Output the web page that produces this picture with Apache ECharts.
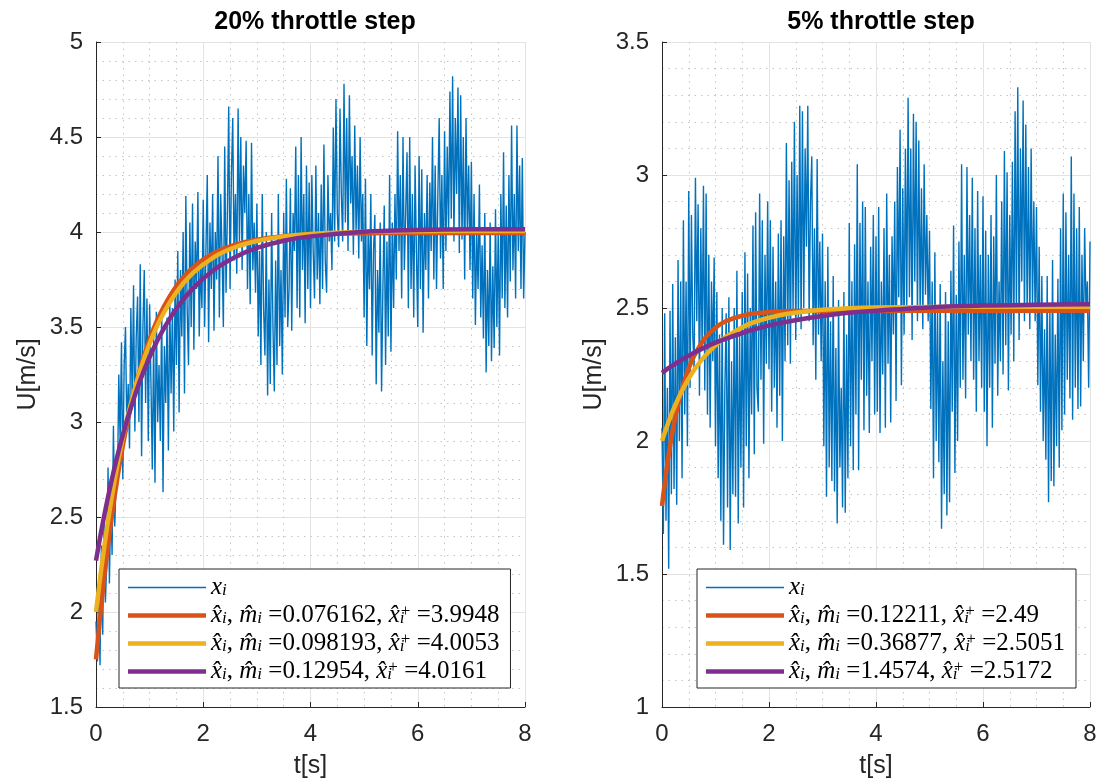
<!DOCTYPE html>
<html><head><meta charset="utf-8">
<script src="https://cdn.jsdelivr.net/npm/echarts@6/dist/echarts.min.js"></script>
<style>html,body{margin:0;padding:0;background:#fff}#c{width:1097px;height:783px}</style>
</head><body><div id="c"></div>
<script>
// ---------- data ----------
const SAMPLE_DT = 0.025; // s between measured samples
const U20_SAMPLES = [
1.95,1.74,2.12,1.72,2.35,1.88,2.48,2.05,
2.25,2.76,2.15,2.6,2.3,2.98,2.45,2.7,
2.66,3.25,2.9,3.42,2.7,3.3,3.5,2.95,
3.2,2.86,3.6,3.1,3.72,2.95,3.45,3.66,
3.0,3.83,2.82,3.5,3.8,3.1,3.65,2.9,
3.62,3.2,2.75,3.45,2.68,3.58,3.0,3.3,
2.9,3.6,2.63,3.4,3.1,3.55,2.85,3.65,
3.15,3.6,2.95,3.75,3.3,3.9,3.05,3.8,
3.45,4.0,3.15,4.19,3.6,3.3,4.05,3.5,
4.15,3.38,3.95,3.7,4.21,3.45,3.85,3.6,
4.17,3.5,3.9,4.3,3.42,4.05,3.7,4.2,
3.48,4.0,3.75,4.4,3.55,4.2,3.9,3.5,
4.45,3.68,4.1,4.66,3.7,4.3,4.6,3.85,
4.2,3.78,4.65,3.95,4.5,3.8,4.35,4.1,
4.48,3.7,4.2,3.62,4.47,3.8,4.05,3.68,
4.15,3.45,3.9,3.3,4.2,3.6,3.35,4.0,
3.14,3.75,3.2,4.1,3.5,3.16,3.85,3.3,
4.2,3.4,3.8,3.25,4.1,3.55,4.28,3.5,
3.7,4.23,3.48,4.1,3.9,4.45,3.6,4.3,
3.55,4.5,3.8,4.2,3.52,4.35,3.7,4.26,
3.6,4.3,3.9,3.65,4.35,3.75,4.1,3.62,
4.25,3.7,4.46,3.85,3.68,4.3,3.95,4.1,
3.8,4.55,3.95,4.7,4.1,3.92,4.65,4.2,
3.95,4.78,4.05,4.6,3.9,4.72,4.15,4.4,
3.88,4.56,4.0,4.35,3.86,4.5,3.95,4.2,
3.55,4.28,3.4,4.0,3.7,4.2,3.35,3.9,
4.09,3.2,3.8,3.47,4.05,3.16,3.7,4.14,
3.3,3.95,3.45,4.3,3.37,4.05,3.6,4.2,
3.75,4.53,3.9,4.3,3.65,4.5,3.8,4.1,
4.42,3.6,4.5,3.7,4.2,3.55,4.35,3.9,
3.5,4.4,3.7,4.33,3.47,4.1,3.8,4.3,
3.65,4.26,3.9,4.5,3.75,4.35,3.7,4.2,
4.6,3.86,4.3,3.7,4.53,3.9,4.45,4.0,
4.74,4.07,4.82,3.95,4.6,4.2,4.76,3.89,
4.72,3.96,4.5,3.75,4.6,4.0,4.35,3.8,
4.37,3.65,4.2,3.51,4.0,3.7,4.25,3.55,
3.93,3.44,4.1,3.26,3.8,3.4,4.05,3.32,
3.82,3.39,4.12,3.5,4.0,3.35,4.2,3.65,
4.42,3.6,4.14,3.55,4.3,3.74,4.56,3.8,
4.2,3.65,4.56,3.9,4.35,3.7,4.39,3.65,
4.0];
const U5_SAMPLES = [
2.05,1.65,2.48,1.7,2.2,1.52,2.49,1.8,
2.59,1.82,2.39,1.76,2.68,2.0,2.6,1.86,
2.83,2.1,2.6,1.98,2.94,2.2,2.85,2.4,
2.27,2.99,2.45,2.89,2.17,2.8,2.35,2.96,
2.19,2.93,2.1,2.7,2.05,2.6,2.3,2.69,
1.98,2.56,1.86,2.4,1.7,2.5,1.61,2.2,
2.48,1.75,2.54,1.59,2.3,1.8,2.5,1.79,
2.64,1.69,2.4,1.9,2.56,1.75,2.71,1.98,
2.63,1.86,2.5,2.1,2.81,1.95,2.86,2.2,
2.11,2.93,2.23,2.83,1.99,2.7,2.29,2.9,
2.27,2.83,2.11,2.73,2.2,2.6,2.05,2.78,
2.17,2.83,2.0,2.77,2.3,3.12,2.36,2.98,
2.29,3.05,2.48,3.2,2.38,3.0,2.45,3.26,
2.42,3.24,2.5,3.1,2.73,3.26,2.45,2.9,
3.07,2.36,2.8,2.23,3.06,2.4,2.75,2.3,
2.78,1.98,2.6,1.79,2.73,1.9,2.45,1.85,
2.62,1.81,2.35,1.69,2.53,1.9,2.2,1.75,
2.56,1.73,2.4,1.86,2.82,1.98,2.6,1.89,
2.74,2.1,3.04,1.89,2.82,2.23,2.9,2.04,
2.88,2.17,2.6,2.03,2.73,2.3,2.85,2.1,
2.77,2.11,2.88,2.03,2.6,2.25,2.8,2.05,
2.93,2.29,2.7,2.07,2.77,2.4,2.9,2.15,
3.03,2.54,3.17,2.21,2.95,2.4,3.1,2.5,
3.29,2.54,3.1,2.38,3.23,2.6,3.2,2.45,
3.13,2.48,2.95,2.42,3.04,2.55,2.85,2.45,
2.79,2.12,2.6,1.86,2.71,2.0,2.5,1.92,
2.59,1.67,2.3,1.8,2.56,1.72,2.45,1.77,
2.64,2.11,2.81,1.88,2.55,2.0,2.75,2.2,
3.04,2.23,2.7,2.16,3.03,2.4,2.85,2.3,
2.99,2.23,2.8,2.11,2.94,2.3,2.7,2.2,
2.92,2.11,2.79,1.98,2.7,2.2,2.85,2.05,
2.77,2.29,3.0,2.17,2.6,2.3,2.9,2.25,
3.09,2.36,3.01,2.19,2.85,2.4,3.05,2.3,
3.24,2.48,3.33,2.38,3.1,2.6,3.28,2.45,
3.19,2.48,3.03,2.42,3.1,2.5,2.9,2.45,
2.88,2.21,2.73,2.11,2.62,2.0,2.42,1.93,
2.62,1.77,2.5,1.85,2.68,1.83,2.4,1.98,
2.61,1.9,2.8,2.04,2.93,2.1,2.86,2.23,
2.7,2.16,3.07,2.08,2.93,2.2,2.8,2.12,
2.88,2.13,2.7,2.3,2.8,2.49,2.6,2.2,
2.75];

const FIT_T = [0,0.1,0.2,0.3,0.4,0.5,0.6,0.8,1.0,1.2,1.5,1.8,2.2,2.6,3.0,3.5,4.0,5.0,6.0,7.0,8.0];
const FIT20_A = [1.75,2.041,2.295,2.515,2.707,2.874,3.019,3.256,3.436,3.571,3.715,3.811,3.889,3.934,3.960,3.978,3.986,3.993,3.995,3.995,3.995];
const FIT20_B = [2.0,2.230,2.434,2.614,2.774,2.916,3.041,3.249,3.413,3.541,3.683,3.782,3.868,3.921,3.953,3.977,3.990,4.001,4.004,4.005,4.005];
const FIT20_C = [2.27,2.429,2.572,2.704,2.823,2.931,3.029,3.201,3.342,3.459,3.597,3.701,3.801,3.869,3.916,3.954,3.977,4.001,4.010,4.014,4.015];
const FIT5_A = [1.756,1.915,2.039,2.137,2.213,2.273,2.320,2.386,2.426,2.451,2.471,2.481,2.487,2.489,2.49,2.49,2.49,2.49,2.49,2.49,2.49];
const FIT5_B = [2.0,2.059,2.112,2.158,2.199,2.235,2.267,2.319,2.360,2.392,2.428,2.452,2.473,2.485,2.493,2.499,2.502,2.504,2.505,2.505,2.505];
const FIT5_C = [2.256,2.271,2.284,2.297,2.309,2.321,2.332,2.352,2.370,2.385,2.406,2.424,2.443,2.458,2.470,2.482,2.490,2.502,2.509,2.512,2.514];

const M20 = ['0.076162','0.098193','0.12954'];
const XP20 = ['3.9948','4.0053','4.0161'];
const M5 = ['0.12211','0.36877','1.4574'];
const XP5 = ['2.49','2.5051','2.5172'];

const TITLES = ['20% throttle step','5% throttle step'];
const X_NAME = 't[s]';
const Y_NAME = 'U[m/s]';

// ---------- chart ----------
const C_BLUE = '#0072BD', C_RED = '#D95319', C_YEL = '#EDB120', C_PUR = '#7E2F8E';
const AX = '#262626';
const SANS = 'Liberation Sans';
const SERIF = 'Liberation Serif';
const pairs = (ts, vs) => vs.map((v, i) => [ts[i], v]);
const sampled = vs => vs.map((v, i) => [+(i * SAMPLE_DT).toFixed(3), v]);

function fitLabel(m, xp) {
  return '{it|x\u0302}{sub|i}{n|, }{it|m\u0302}{sub|i}{n| =' + m + ', }{it|x\u0302}{subz|i}{sup|+}{n| =' + xp + '}';
}
const labelMap = {
  'xi20': '{it|x}{sub|i}', 'xi5': '{it|x}{sub|i}',
  'a20': fitLabel(M20[0], XP20[0]), 'b20': fitLabel(M20[1], XP20[1]), 'c20': fitLabel(M20[2], XP20[2]),
  'a5': fitLabel(M5[0], XP5[0]), 'b5': fitLabel(M5[1], XP5[1]), 'c5': fitLabel(M5[2], XP5[2])
};
const rich = {
  it: {fontFamily: SERIF, fontStyle: 'italic', fontSize: 25, lineHeight: 24, color: '#000'},
  n: {fontFamily: SERIF, fontSize: 25, lineHeight: 24, color: '#000'},
  sub: {fontFamily: SERIF, fontStyle: 'italic', fontSize: 17, lineHeight: 13, verticalAlign: 'bottom', color: '#000'},
  subz: {fontFamily: SERIF, fontStyle: 'italic', fontSize: 17, lineHeight: 12, verticalAlign: 'bottom', width: 1, color: '#000'},
  sup: {fontFamily: SERIF, fontSize: 17, lineHeight: 17, verticalAlign: 'top', color: '#000'}
};

function xAxisCfg(idx) {
  return {
    gridIndex: idx, type: 'value', min: 0, max: 8, interval: 2,
    name: X_NAME, nameLocation: 'middle', nameGap: 47,
    nameTextStyle: {fontFamily: SANS, fontSize: 25, color: AX},
    axisLine: {show: true, onZero: false, lineStyle: {color: AX, width: 1}},
    axisTick: {show: true, inside: true, length: 5, lineStyle: {color: AX}},
    axisLabel: {fontFamily: SANS, fontSize: 24, color: AX, margin: 15},
    minorTick: {show: false, splitNumber: 4},
    splitLine: {show: true, lineStyle: {color: '#e3e3e3', width: 1}},
    minorSplitLine: {show: true, lineStyle: {color: '#c4c4c4', width: 1, type: [1.5, 5]}}
  };
}
function yAxisCfg(idx, min, max) {
  return {
    gridIndex: idx, type: 'value', min: min, max: max, interval: 0.5,
    name: Y_NAME, nameLocation: 'middle', nameGap: 55, nameRotate: 90,
    nameTextStyle: {fontFamily: SANS, fontSize: 25, color: AX},
    axisLine: {show: true, lineStyle: {color: AX, width: 1}},
    axisTick: {show: true, inside: true, length: 5, lineStyle: {color: AX}},
    axisLabel: {fontFamily: SANS, fontSize: 24, color: AX, margin: 13},
    minorTick: {show: false, splitNumber: 5},
    splitLine: {show: true, lineStyle: {color: '#e3e3e3', width: 1}},
    minorSplitLine: {show: true, lineStyle: {color: '#c4c4c4', width: 1, type: [1.5, 5]}}
  };
}
const ICON_THIN = 'path://M0,0H78V1.6H0Z';
const ICON_THICK = 'path://M0,0H78V4.5H0Z';
function legendCfg(left, names) {
  const colors = [C_BLUE, C_RED, C_YEL, C_PUR];
  return {
    zlevel: 2,
    data: names.map((n, i) => ({name: n, icon: i === 0 ? ICON_THIN : ICON_THICK,
      itemStyle: {color: colors[i], borderColor: colors[i], borderWidth: 0, opacity: 1}})),
    left: left, top: 569, orient: 'vertical',
    itemWidth: 78, itemHeight: 20, itemGap: 3,
    padding: [6, 11, 4, 9], backgroundColor: '#fff', borderColor: AX, borderWidth: 1, borderRadius: 0,
    selectedMode: false,
    formatter: name => labelMap[name],
    textStyle: {rich: rich}
  };
}
function noisy(name, xi, data) {
  return {name, type: 'line', xAxisIndex: xi, yAxisIndex: xi, data, symbol: 'none', showSymbol: false,
    lineStyle: {color: C_BLUE, width: 1.4}, itemStyle: {color: C_BLUE, borderColor: C_BLUE}, zlevel: 0, z: 2};
}
function fit(name, xi, data, color, z) {
  return {name, type: 'line', xAxisIndex: xi, yAxisIndex: xi, data, symbol: 'none', showSymbol: false,
    smooth: 0.35, lineStyle: {color, width: 4.5}, itemStyle: {color}, zlevel: 1, z};
}

const option = {
  animation: false,
  backgroundColor: '#fff',
  title: [
    {text: TITLES[0], left: 310, top: 5, textAlign: 'center',
     textStyle: {fontFamily: SANS, fontWeight: 'bold', fontSize: 25, color: '#000'}},
    {text: TITLES[1], left: 876, top: 5, textAlign: 'center',
     textStyle: {fontFamily: SANS, fontWeight: 'bold', fontSize: 25, color: '#000'}}
  ],
  grid: [
    {left: 96, top: 42, width: 429, height: 665, outerBoundsMode: 'none', containLabel: false},
    {left: 662, top: 42, width: 428, height: 665, outerBoundsMode: 'none', containLabel: false}
  ],
  xAxis: [xAxisCfg(0), xAxisCfg(1)],
  yAxis: [yAxisCfg(0, 1.5, 5), yAxisCfg(1, 1, 3.5)],
  legend: [legendCfg(119, ['xi20', 'a20', 'b20', 'c20']), legendCfg(697, ['xi5', 'a5', 'b5', 'c5'])],
  series: [
    noisy('xi20', 0, sampled(U20_SAMPLES)),
    fit('a20', 0, pairs(FIT_T, FIT20_A), C_RED, 3),
    fit('b20', 0, pairs(FIT_T, FIT20_B), C_YEL, 4),
    fit('c20', 0, pairs(FIT_T, FIT20_C), C_PUR, 5),
    noisy('xi5', 1, sampled(U5_SAMPLES)),
    fit('a5', 1, pairs(FIT_T, FIT5_A), C_RED, 3),
    fit('b5', 1, pairs(FIT_T, FIT5_B), C_YEL, 4),
    fit('c5', 1, pairs(FIT_T, FIT5_C), C_PUR, 5)
  ]
};
const chart = echarts.init(document.getElementById('c'), null, {renderer: 'canvas'});
chart.setOption(option);
</script></body></html>
